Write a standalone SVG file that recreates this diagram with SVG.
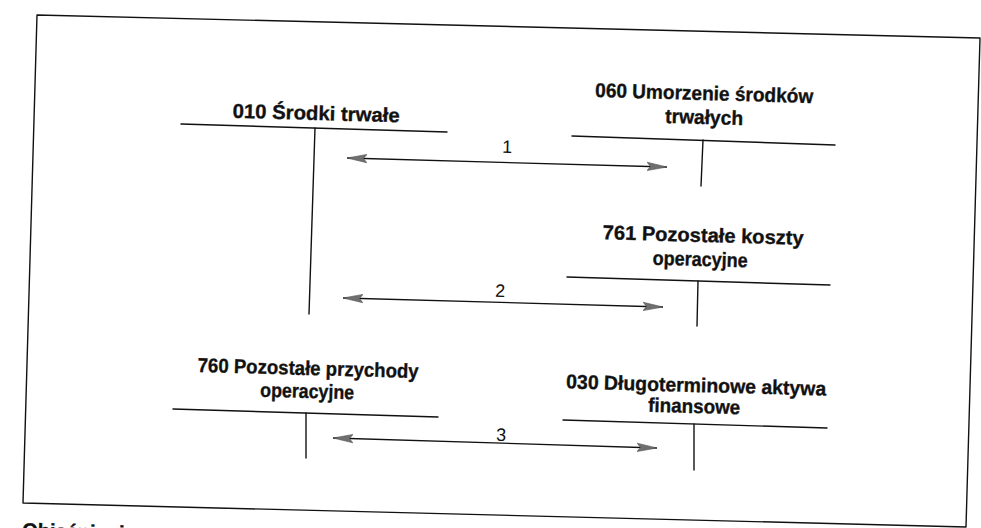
<svg xmlns="http://www.w3.org/2000/svg" width="981" height="528" viewBox="0 0 981 528">
<style>
.ln{stroke:#111;stroke-width:1.4;fill:none;stroke-linecap:round;stroke-linejoin:round}
.t{font-family:"Liberation Sans Narrow","Liberation Sans",Arial,sans-serif;font-weight:bold;font-size:20px;fill:#111;stroke:#111;stroke-width:0.35;text-anchor:middle}
.n{font-family:"Liberation Sans Narrow","Liberation Sans",Arial,sans-serif;font-size:18px;fill:#111;text-anchor:middle}
.ar{stroke:#111;stroke-width:1.3;fill:none;marker-start:url(#ah);marker-end:url(#ah)}
</style>
<defs>
<marker id="ah" markerUnits="userSpaceOnUse" markerWidth="22" markerHeight="12" refX="20" refY="5" orient="auto-start-reverse" viewBox="0 0 22 10">
<path d="M0,0.8 L20,5 L0,9.2 L3.5,5 Z" fill="#6f6f6f" stroke="#555" stroke-width="0.6"/>
</marker>
</defs>
<rect width="981" height="528" fill="#fff"/>
<g id="frame">
<polygon class="ln" points="37,15 980,38 966,527 23,503"/>
</g>
<g id="node-010">
<text class="t" x="316" y="120" textLength="167" lengthAdjust="spacingAndGlyphs" transform="rotate(1.6 316 120)">010  Środki trwałe</text>
<line class="ln" x1="181" y1="124" x2="447" y2="132"/>
<line class="ln" x1="315" y1="128" x2="309" y2="314"/>
</g>
<g id="node-060">
<text class="t" x="704" y="100" textLength="218" lengthAdjust="spacingAndGlyphs" transform="rotate(1.6 704 100)">060  Umorzenie środków</text>
<text class="t" x="704" y="124" textLength="78" lengthAdjust="spacingAndGlyphs" transform="rotate(1.6 704 124)">trwałych</text>
<line class="ln" x1="572" y1="136" x2="835" y2="145"/>
<line class="ln" x1="703" y1="140" x2="701" y2="186"/>
</g>
<g id="node-761">
<text class="t" x="703" y="242" textLength="201" lengthAdjust="spacingAndGlyphs" transform="rotate(1.6 703 242)">761  Pozostałe koszty</text>
<text class="t" x="700" y="266" textLength="95" lengthAdjust="spacingAndGlyphs" transform="rotate(1.6 700 266)">operacyjne</text>
<line class="ln" x1="567" y1="277" x2="830" y2="285"/>
<line class="ln" x1="698" y1="281" x2="697" y2="326"/>
</g>
<g id="node-760">
<text class="t" x="308" y="375" textLength="221" lengthAdjust="spacingAndGlyphs" transform="rotate(1.6 308 375)">760  Pozostałe przychody</text>
<text class="t" x="307" y="398" textLength="94" lengthAdjust="spacingAndGlyphs" transform="rotate(1.6 307 398)">operacyjne</text>
<line class="ln" x1="173" y1="409" x2="438" y2="417"/>
<line class="ln" x1="306" y1="413" x2="306" y2="458"/>
</g>
<g id="node-030">
<text class="t" x="696" y="392" textLength="260" lengthAdjust="spacingAndGlyphs" transform="rotate(1.6 696 392)">030  Długoterminowe aktywa</text>
<text class="t" x="694" y="413" textLength="92" lengthAdjust="spacingAndGlyphs" transform="rotate(1.6 694 413)">finansowe</text>
<line class="ln" x1="563" y1="420" x2="827" y2="428"/>
<line class="ln" x1="694" y1="424" x2="694" y2="470"/>
</g>
<g id="connectors">
<line class="ar" x1="347" y1="158" x2="667" y2="167"/>
<text class="n" x="507" y="153" transform="rotate(1.6 507 153)">1</text>
<line class="ar" x1="343" y1="298" x2="663" y2="307"/>
<text class="n" x="500" y="297" transform="rotate(1.6 500 297)">2</text>
<line class="ar" x1="333" y1="438" x2="657" y2="448"/>
<text class="n" x="501" y="441" transform="rotate(1.6 501 441)">3</text>
</g>
<g id="caption">
<text class="t" x="22" y="537" style="text-anchor:start" transform="rotate(1.6 22 537)">Objaśnienia:</text>
</g>
</svg>
